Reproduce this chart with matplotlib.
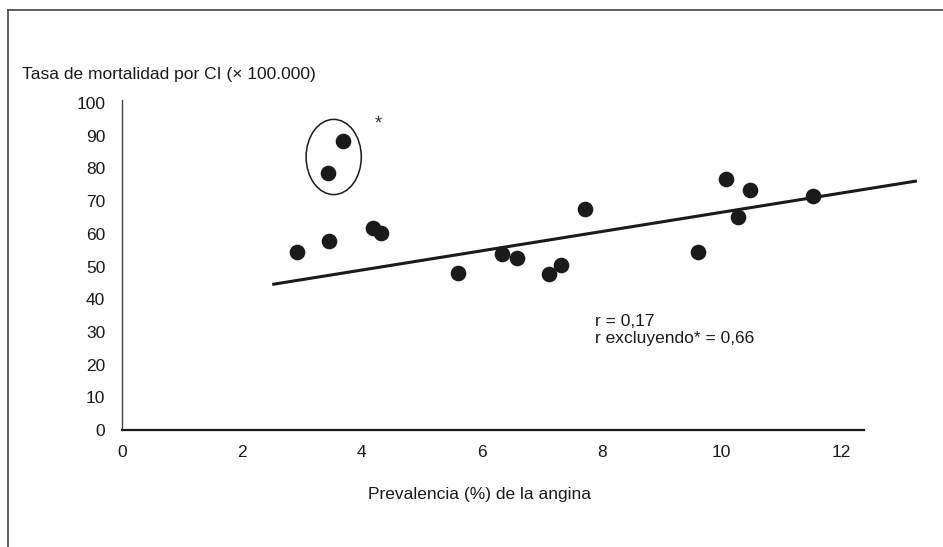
import matplotlib
matplotlib.use("Agg")
import matplotlib.pyplot as plt
from matplotlib import font_manager
from matplotlib.patches import Ellipse
from matplotlib.lines import Line2D

# ─── Datos ────────────────────────────────────────────────────────────────────

prevalencia = [2.92, 3.45, 3.43, 3.68, 4.18, 4.32, 5.60, 6.33, 6.58, 7.12,
               7.32, 7.72, 9.60, 10.08, 10.27, 10.47, 11.52]
mortalidad = [54.4, 57.8, 78.6, 88.4, 61.8, 60.2, 48.0, 53.8, 52.6, 47.7,
              50.5, 67.6, 54.4, 76.8, 65.1, 73.4, 71.6]

recta_x = [2.53, 13.23]
recta_y = [44.6, 76.1]

x_ticks = [0, 2, 4, 6, 8, 10, 12]
y_ticks = list(range(0, 101, 10))

titulo_y = "Tasa de mortalidad por CI (\u00d7 100.000)"
titulo_x = "Prevalencia (%) de la angina"
texto_r = "r = 0,17\nr excluyendo* = 0,66"

# ─── Fuente ───────────────────────────────────────────────────────────────────

nombres = {f.name for f in font_manager.fontManager.ttflist}
fuente = "Liberation Sans Narrow" if "Liberation Sans Narrow" in nombres else "Liberation Sans"
plt.rcParams["font.family"] = [fuente, "DejaVu Sans"]
plt.rcParams["font.size"] = 11

# ─── Figura ───────────────────────────────────────────────────────────────────

fig = plt.figure(figsize=(9.43, 5.47), dpi=100)
ax = fig.add_axes([0.1294, 0.2139, 0.7866, 0.6031])

ax.scatter(prevalencia, mortalidad, s=105, color="#1a1a1a", zorder=3)
ax.plot(recta_x, recta_y, color="#1a1a1a", lw=2.2, clip_on=False)

ax.add_patch(Ellipse((3.53, 83.5), 0.92, 23, fill=False, ec="#1a1a1a", lw=1.1))
ax.text(4.28, 93.5, "*", ha="center", va="center", fontsize=13, color="#333333")
ax.text(7.88, 30.5, texto_r, ha="left", va="center", fontsize=12.5,
        linespacing=1.2, color="#1a1a1a")

ax.set_xlim(0, 12.37)
ax.set_ylim(0, 100.9)
ax.set_xticks(x_ticks)
ax.set_yticks(y_ticks)
ax.tick_params(length=0, labelsize=12.5, colors="#1a1a1a")
ax.tick_params(axis="x", pad=11)
ax.tick_params(axis="y", pad=12)
for lado in ["top", "right"]:
    ax.spines[lado].set_visible(False)
ax.spines["left"].set_color("#444444")
ax.spines["left"].set_linewidth(1.0)
ax.spines["bottom"].set_color("#1a1a1a")
ax.spines["bottom"].set_linewidth(1.6)

fig.text(22 / 943, 1 - 75 / 547, titulo_y, ha="left", va="center",
         fontsize=12.5, color="#1a1a1a")
fig.text(480 / 943, 1 - 495 / 547, titulo_x, ha="center", va="center",
         fontsize=12.5, color="#1a1a1a")

# marco de la figura (solo arriba e izquierda)
fig.add_artist(Line2D([8 / 943, 1], [1 - 10 / 547] * 2, color="#444444", lw=1.2))
fig.add_artist(Line2D([8 / 943] * 2, [0, 1 - 10 / 547], color="#444444", lw=1.2))

fig.savefig("out.png", dpi=100)
